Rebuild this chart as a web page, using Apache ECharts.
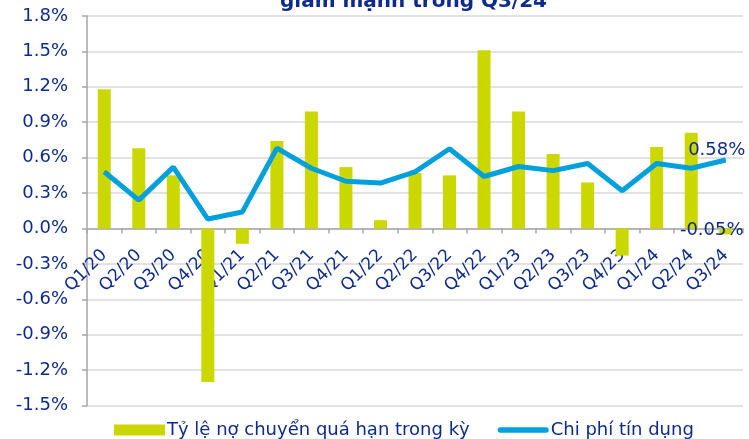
<!DOCTYPE html>
<html><head><meta charset="utf-8">
<script src="https://cdn.jsdelivr.net/npm/echarts@6/dist/echarts.min.js"></script>
<style>html,body{margin:0;padding:0;background:#fff}#c{width:749px;height:439px}</style>
</head><body><div id="c"></div>
<script>
const categories = ['Q1/20','Q2/20','Q3/20','Q4/20','Q1/21','Q2/21','Q3/21','Q4/21','Q1/22','Q2/22','Q3/22','Q4/22','Q1/23','Q2/23','Q3/23','Q4/23','Q1/24','Q2/24','Q3/24'];
const overdueRate = [1.18,0.68,0.45,-1.30,-0.13,0.74,0.99,0.52,0.07,0.47,0.45,1.51,0.99,0.63,0.39,-0.23,0.69,0.81,-0.05];
const creditCost = [0.48,0.24,0.52,0.08,0.14,0.68,0.51,0.40,0.385,0.48,0.675,0.44,0.525,0.49,0.55,0.32,0.55,0.51,0.58];
const seriesNames = ['Tỷ lệ nợ chuyển quá hạn trong kỳ','Chi phí tín dụng'];
const titleText = 'giảm mạnh trong Q3/24';

const navy = '#0d2b8c';
const font = 'DejaVu Sans';
const last = categories.length - 1;
const chart = echarts.init(document.getElementById('c'));
chart.setOption({
  animation: false,
  textStyle: {fontFamily: font},
  title: {text: titleText, left: 275, top: -13, textStyle: {fontFamily: font, fontSize: 20, fontWeight: 'bold', color: navy}},
  grid: {left: 87, right: 6, top: 16, bottom: 33.5, outerBoundsMode: 'none', containLabel: false},
  legend: {
    left: 109, top: 416, itemWidth: 51, itemHeight: 11, itemGap: 28,
    textStyle: {fontFamily: font, fontSize: 18, color: navy, padding: [0,0,0,-3]},
    data: [
      {name: seriesNames[0], icon: 'rect'},
      {name: seriesNames[1], icon: 'path://M3,0 L54,0 A3,3 0 0 1 54,6 L3,6 A3,3 0 0 1 3,0 Z'}
    ]
  },
  xAxis: {
    type: 'category', data: categories,
    axisLine: {onZero: false, lineStyle: {color: '#a6a6a6', width: 1.5}},
    axisTick: {show: true, length: 5, lineStyle: {color: '#a6a6a6', width: 1.5}},
    axisLabel: {rotate: 45, fontSize: 17, color: navy, margin: 24, fontFamily: font, interval: 0},
    splitLine: {show: false}
  },
  yAxis: {
    type: 'value', min: -1.5, max: 1.8, interval: 0.3,
    axisLine: {show: true, lineStyle: {color: '#a6a6a6', width: 1.5}},
    axisTick: {show: true, length: 5, lineStyle: {color: '#a6a6a6', width: 1.5}},
    axisLabel: {fontSize: 18, color: navy, margin: 19, fontFamily: font, formatter: v => v.toFixed(1) + '%'},
    splitLine: {lineStyle: {color: '#d9d9d9', width: 1.5}}
  },
  series: [
    {
      name: seriesNames[0], type: 'bar', barWidth: 13,
      itemStyle: {color: '#cbd800'},
      data: overdueRate.map((v, i) => i === last ? {value: v, label: {show: true, position: 'inside', offset: [-14, -1], fontSize: 18, color: navy, fontFamily: font, formatter: p => p.value.toFixed(2) + '%'}} : v),
      z: 2
    },
    {
      name: seriesNames[1], type: 'line', symbol: 'circle', symbolSize: 1, showSymbol: true,
      lineStyle: {color: '#00a0dc', width: 5},
      itemStyle: {color: '#00a0dc'},
      data: creditCost.map((v, i) => i === last ? {value: v, label: {show: true, position: 'top', offset: [-9, 5], fontSize: 18, color: navy, fontFamily: font, formatter: p => p.value.toFixed(2) + '%'}} : v),
      z: 3
    }
  ]
});
// place the category axis on the zero line of the value axis
const zeroY = chart.convertToPixel({yAxisIndex: 0}, 0);
const minY = chart.convertToPixel({yAxisIndex: 0}, -1.5);
chart.setOption({xAxis: {offset: zeroY - minY}});
</script></body></html>
